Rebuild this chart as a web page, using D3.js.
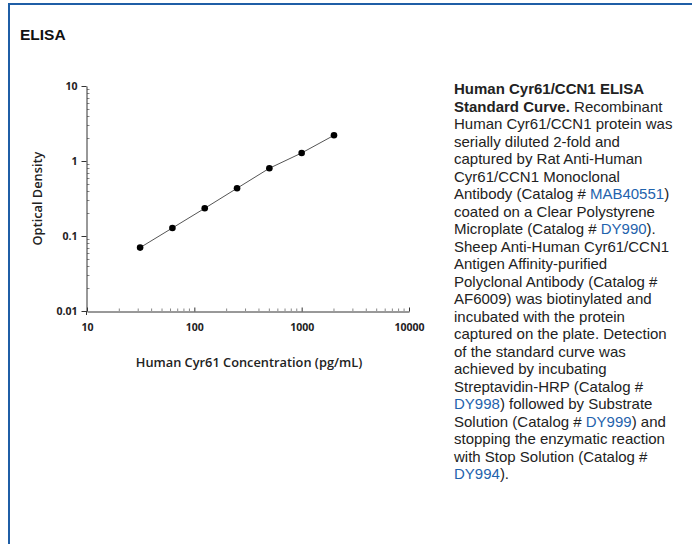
<!DOCTYPE html>
<html>
<head>
<meta charset="utf-8">
<script src="https://cdn.jsdelivr.net/npm/d3@7"></script>
<style>
  html, body { margin: 0; padding: 0; background: #fff; }
  svg { display: block; }
</style>
</head>
<body>
<svg id="chart" width="692" height="544"></svg>
<script>
// standard curve
const concentration = [31.25, 62.5, 125, 250, 500, 1000, 2000];
const opticalDensity = [0.070, 0.128, 0.234, 0.433, 0.80, 1.28, 2.20];
const xTicks = [10, 100, 1000, 10000];
const yTicks = [0.01, 0.1, 1, 10];
const xTickLabels = ['10', '100', '1000', '10000'];
const yTickLabels = ['0.01', '0.1', '1', '10'];

// caption lines: [text, kind] — kind b = bold, l = link, n = normal
const caption = [
  [['Human Cyr61/CCN1 ELISA', 'b']],
  [['Standard Curve.', 'b'], [' Recombinant', 'n']],
  [['Human Cyr61/CCN1 protein was', 'n']],
  [['serially diluted 2-fold and', 'n']],
  [['captured by Rat Anti-Human', 'n']],
  [['Cyr61/CCN1 Monoclonal', 'n']],
  [['Antibody (Catalog # ', 'n'], ['MAB40551', 'l'], [')', 'n']],
  [['coated on a Clear Polystyrene', 'n']],
  [['Microplate (Catalog # ', 'n'], ['DY990', 'l'], [').', 'n']],
  [['Sheep Anti-Human Cyr61/CCN1', 'n']],
  [['Antigen Affinity-purified', 'n']],
  [['Polyclonal Antibody (Catalog #', 'n']],
  [['AF6009) was biotinylated and', 'n']],
  [['incubated with the protein', 'n']],
  [['captured on the plate. Detection', 'n']],
  [['of the standard curve was', 'n']],
  [['achieved by incubating', 'n']],
  [['Streptavidin-HRP (Catalog #', 'n']],
  [['DY998', 'l'], [') followed by Substrate', 'n']],
  [['Solution (Catalog # ', 'n'], ['DY999', 'l'], [') and', 'n']],
  [['stopping the enzymatic reaction', 'n']],
  [['with Stop Solution (Catalog #', 'n']],
  [['DY994', 'l'], [').', 'n']]
];

const svg = d3.select('#chart');
const BLUE = '#1f5ea6', AX = '#333';
const tickFont = '"Open Sans", sans-serif';

// frame: blue rule on top and left
svg.append('line').attr('x1', 8).attr('x2', 692).attr('y1', 4).attr('y2', 4)
  .attr('stroke', BLUE).attr('stroke-width', 2);
svg.append('line').attr('x1', 9).attr('x2', 9).attr('y1', 3).attr('y2', 544)
  .attr('stroke', BLUE).attr('stroke-width', 2);

svg.append('text').attr('x', 20).attr('y', 39.5)
  .attr('font-family', 'Liberation Sans, Arial, sans-serif').attr('font-weight', 700)
  .attr('font-size', 15.5).attr('fill', '#111').text('ELISA');

// ---------- plot ----------
const x = d3.scaleLog().domain([10, 10000]).range([87, 409]);
const y = d3.scaleLog().domain([0.01, 10]).range([311, 86]);
const g = svg.append('g');

// minor ticks (inside)
const minorX = x.ticks().filter(v => !xTicks.includes(v));
const minorY = y.ticks().filter(v => !yTicks.some(t => Math.abs(t - v) < 1e-9));
g.selectAll('line.mx').data(minorX).join('line').attr('class', 'mx')
  .attr('x1', d => x(d)).attr('x2', d => x(d)).attr('y1', 311).attr('y2', 308.5)
  .attr('stroke', '#888').attr('stroke-width', 1);
g.selectAll('line.my').data(minorY).join('line').attr('class', 'my')
  .attr('x1', 87).attr('x2', 89.5).attr('y1', d => Math.round(y(d)) + .5).attr('y2', d => Math.round(y(d)) + .5)
  .attr('stroke', '#888').attr('stroke-width', 1);

// axes
const xAxis = g.append('g').attr('transform', 'translate(0,311.5)')
  .call(d3.axisBottom(x).tickValues(xTicks).tickSizeInner(-4).tickSizeOuter(0)
    .tickFormat((d, i) => xTickLabels[i]).tickPadding(12));
const yAxis = g.append('g').attr('transform', 'translate(86.5,0)')
  .call(d3.axisLeft(y).tickValues(yTicks).tickSizeInner(5).tickSizeOuter(0)
    .tickFormat((d, i) => yTickLabels[i]).tickPadding(4));
[xAxis, yAxis].forEach(a => {
  a.select('.domain').attr('stroke', AX);
  a.selectAll('.tick line').attr('stroke', AX);
  a.selectAll('.tick text').attr('font-family', tickFont).attr('font-weight', 700)
    .attr('font-size', 10.5).attr('fill', '#222');
});
// y axis runs a little below the x axis
g.append('line').attr('x1', 86.5).attr('x2', 86.5).attr('y1', 311).attr('y2', 315)
  .attr('stroke', AX);

g.append('text').attr('x', 249).attr('y', 367).attr('text-anchor', 'middle')
  .attr('font-family', tickFont).attr('font-weight', 600).attr('font-size', 12.8)
  .attr('fill', '#222').text('Human Cyr61 Concentration (pg/mL)');
g.append('text').attr('transform', 'translate(42,198.5) rotate(-90)').attr('text-anchor', 'middle')
  .attr('font-family', tickFont).attr('font-weight', 600).attr('font-size', 12.8)
  .attr('fill', '#222').text('Optical Density');

// curve + points
const pts = concentration.map((c, i) => ({ c, od: opticalDensity[i] }));
g.append('path').datum(pts)
  .attr('d', d3.line().x(d => x(d.c)).y(d => y(d.od)))
  .attr('fill', 'none').attr('stroke', '#555').attr('stroke-width', 1);
g.selectAll('circle.pt').data(pts).join('circle').attr('class', 'pt')
  .attr('cx', d => x(d.c)).attr('cy', d => y(d.od)).attr('r', 3.3).attr('fill', '#000');

// ---------- caption ----------
const cap = svg.append('text').attr('font-family', 'Liberation Sans, Arial, sans-serif')
  .attr('font-size', 15).attr('fill', '#222');
caption.forEach((segs, i) => {
  segs.forEach((s, j) => {
    const t = cap.append('tspan').text(s[0])
      .attr('font-weight', s[1] === 'b' ? 700 : 400)
      .attr('fill', s[1] === 'l' ? '#1f63ad' : '#222')
      .style('white-space', 'pre');
    if (j === 0) t.attr('x', 454).attr('y', 94 + i * 17.5);
  });
});
</script>
</body>
</html>
